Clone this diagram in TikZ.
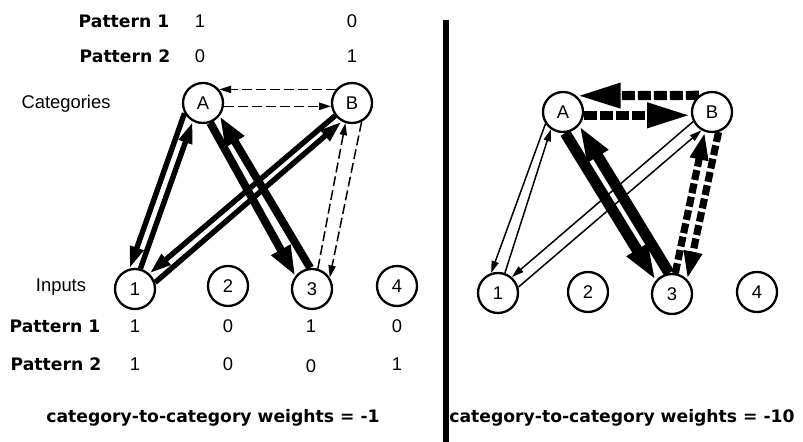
\documentclass[tikz,border=0pt]{standalone}
\usepackage{fontspec}
\setmainfont{Liberation Sans}
\newfontfamily\chicago{DejaVu Sans}
\usetikzlibrary{arrows.meta, backgrounds}

\tikzset{
  unit/.style={circle, draw, line width=1.15pt, fill=white, minimum size=20pt, inner sep=0pt, font=\fontsize{9.2}{11}\selectfont},
  txt/.style={anchor=base, inner sep=0pt, font=\fontsize{9.2}{11}\selectfont},
  patlbl/.style={anchor=base, inner sep=0pt, font=\chicago\bfseries\fontsize{8.6}{10}\selectfont},
  wthin/.style={line width=0.75pt, -{Triangle[length=6pt,width=3.6pt]}},
  wmid/.style={line width=2.7pt, -{Triangle[length=11pt,width=6.5pt]}},
  wthick/.style={line width=4pt, -{Triangle[length=15pt,width=10pt]}},
  wheavy/.style={line width=5.5pt, -{Triangle[length=18pt,width=11pt]}},
  dthin/.style={line width=0.75pt, dash pattern=on 5pt off 2pt, -{Triangle[length=6pt,width=3.6pt]}},
  dmid/.style={line width=3.6pt, dash pattern=on 5pt off 1.8pt, -{Triangle[length=14pt,width=8.5pt]}},
  dheavy/.style={line width=4.6pt, dash pattern=on 6.5pt off 1.5pt, -{Triangle[length=22pt,width=11.5pt]}},
}

\begin{document}
\begin{tikzpicture}[x=0.5pt, y=-0.5pt]
    \useasboundingbox (0,0) rectangle (803,442);

    % Left panel: category and input units
    \node[unit] (lA) at (203,103) {A};
    \node[unit] (lB) at (352,103) {B};
    \node[unit] (l1) at (135,289) {1};
    \node[unit] (l2) at (228,286) {2};
    \node[unit] (l3) at (312,289) {3};
    \node[unit] (l4) at (397,286) {4};

    % Right panel: the same units
    \node[unit] (rA) at (563,112) {A};
    \node[unit] (rB) at (712,112) {B};
    \node[unit] (r1) at (498,293) {1};
    \node[unit] (r2) at (588,292) {2};
    \node[unit] (r3) at (672,294) {3};
    \node[unit] (r4) at (757,292) {4};

    \begin{scope}[on background layer]
    % Left panel weights
    \draw[wmid] (lA.209) -- (l1.105);
    \draw[wmid] (l1.75) -- (lA.241);
    \draw[wthick] (lA.290) -- (l3.142);
    \draw[wthick] (l3.95) -- (lA.322);
    \draw[wmid] (lB.217) -- (l1.47);
    \draw[wmid] (l1.18) -- (lB.241);
    \draw[dthin] (l3.74) -- (lB.252);
    \draw[dthin] (lB.297) -- (l3.33);
    \draw[dthin] (lB.140) -- (lA.40);
    \draw[dthin] (lA.351) -- (lB.189);

    % Right panel weights
    \draw[wthin] (rA.214) -- (r1.109);
    \draw[wthin] (r1.71) -- (rA.235);
    \draw[wheavy] (rA.276) -- (r3.140);
    \draw[wheavy] (r3.98) -- (rA.320);
    \draw[wthin] (rB.207) -- (r1.49);
    \draw[wthin] (r1.16) -- (rB.240);
    \draw[dmid] (r3.81) -- (rB.250);
    \draw[dmid] (rB.288) -- (r3.44);
    \draw[dheavy] (rB.128) -- (rA.50);
    \draw[dheavy] (rA.351) -- (rB.189);
    \end{scope}

    % Category patterns
    \node[patlbl] (catp1) at (124,28) {Pattern 1};
    \node[txt] (catp1a) at (200,28) {1};
    \node[txt] (catp1b) at (352,28) {0};
    \node[patlbl] (catp2) at (125,63) {Pattern 2};
    \node[txt] (catp2a) at (200,63) {0};
    \node[txt] (catp2b) at (352,63) {1};
    \node[txt] (cats) at (66,109) {Categories};

    % Input patterns
    \node[txt] (inps) at (61,292) {Inputs};
    \node[patlbl] (inp1) at (55,333) {Pattern 1};
    \node[txt] (inp1a) at (135,333) {1};
    \node[txt] (inp1b) at (228,333) {0};
    \node[txt] (inp1c) at (311,333) {1};
    \node[txt] (inp1d) at (397,333) {0};
    \node[patlbl] (inp2) at (56,371) {Pattern 2};
    \node[txt] (inp2a) at (135,371) {1};
    \node[txt] (inp2b) at (228,371) {0};
    \node[txt] (inp2c) at (311,373) {0};
    \node[txt] (inp2d) at (397,371) {1};

    % Divider and captions
    \coordinate (divtop) at (446,20);
    \coordinate (divbot) at (446,442);
    \draw[line width=3pt] (divtop) -- (divbot);
    \node[patlbl] (capl) at (213,423) {category-to-category weights = -1};
    \node[patlbl] (capr) at (622,423) {category-to-category weights = -10};

\end{tikzpicture}
\end{document}
